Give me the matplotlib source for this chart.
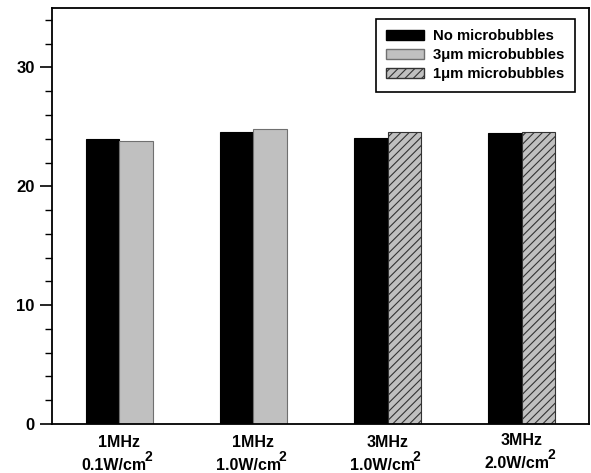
import matplotlib
matplotlib.use("Agg")
import matplotlib.pyplot as plt
import numpy as np
from matplotlib.ticker import MultipleLocator
from matplotlib.transforms import blended_transform_factory
from matplotlib.patches import Patch

plt.rcParams['font.family'] = ['Liberation Sans', 'DejaVu Sans']
plt.rcParams['font.weight'] = 'bold'
plt.rcParams['hatch.linewidth'] = 0.8
plt.rcParams['hatch.color'] = '#333333'

freqs = ["1MHz", "1MHz", "3MHz", "3MHz"]
intensities = ["0.1W/cm", "1.0W/cm", "1.0W/cm", "2.0W/cm"]
no_mb = [24.0, 24.55, 24.1, 24.45]
second = [23.85, 24.8, 24.55, 24.55]
second_kind = ["3um", "3um", "1um", "1um"]

W, H = 591, 473
fig = plt.figure(figsize=(W/100, H/100), dpi=100)
ax = fig.add_axes([52/W, 1 - 424/H, (589-52)/W, (424-8)/H])

x = np.arange(len(freqs))
w = 0.25
ax.bar(x - w/2, no_mb, w, color='black', edgecolor='black', linewidth=0.8)
for xi, v, k in zip(x, second, second_kind):
    if k == "3um":
        ax.bar(xi + w/2, v, w, color='#c0c0c0', edgecolor='#707070', linewidth=0.8)
    else:
        ax.bar(xi + w/2, v, w, color='#c0c0c0', edgecolor='#333333', linewidth=0.8, hatch='////')

handles = [Patch(facecolor='black', edgecolor='black', label='No microbubbles'),
           Patch(facecolor='#c0c0c0', edgecolor='#707070', label='3\u03bcm microbubbles'),
           Patch(facecolor='#c0c0c0', edgecolor='#333333', hatch='////', label='1\u03bcm microbubbles')]
leg = ax.legend(handles=handles, loc='upper right', bbox_to_anchor=(0.974, 0.974),
                borderaxespad=0, fancybox=False, framealpha=1, edgecolor='black',
                prop={'size': 10.7, 'weight': 'bold'},
                handlelength=2.55, handleheight=0.67, borderpad=0.7, labelspacing=0.34,
                handletextpad=0.6)
leg.get_frame().set_linewidth(1.2)

ax.set_xlim(-0.5, 3.5)
ax.set_ylim(0, 35)
ax.yaxis.set_major_locator(MultipleLocator(10))
ax.yaxis.set_minor_locator(MultipleLocator(2))
ax.set_xticks(x)
ax.set_xticklabels([])
ax.tick_params(axis='x', length=0)
ax.tick_params(axis='y', which='major', direction='out', length=9, width=1.2, labelsize=12)
ax.tick_params(axis='y', which='minor', direction='out', length=5, width=1.0)
for lab in ax.get_yticklabels():
    lab.set_fontweight('bold')
for s in ax.spines.values():
    s.set_linewidth(1.3)

# two-line category labels with full-size superscript
trans = blended_transform_factory(ax.transData, fig.transFigure)
for i, (f, it) in enumerate(zip(freqs, intensities)):
    lift = 2 if i == 3 else 0
    ax.text(x[i], 1 - (447 - lift)/H, f, transform=trans, ha='center', va='baseline',
            fontsize=11.5, fontweight='bold')
    t = ax.text(x[i] - 0.035, 1 - (470 - lift)/H, it, transform=trans, ha='center', va='baseline',
                fontsize=11.5, fontweight='bold')
    ax.annotate('2', xy=(1, 0), xycoords=t, xytext=(-2.5, 9), textcoords='offset pixels',
                ha='left', va='bottom', fontsize=10, fontweight='bold')

fig.savefig('out.png', dpi=100)
